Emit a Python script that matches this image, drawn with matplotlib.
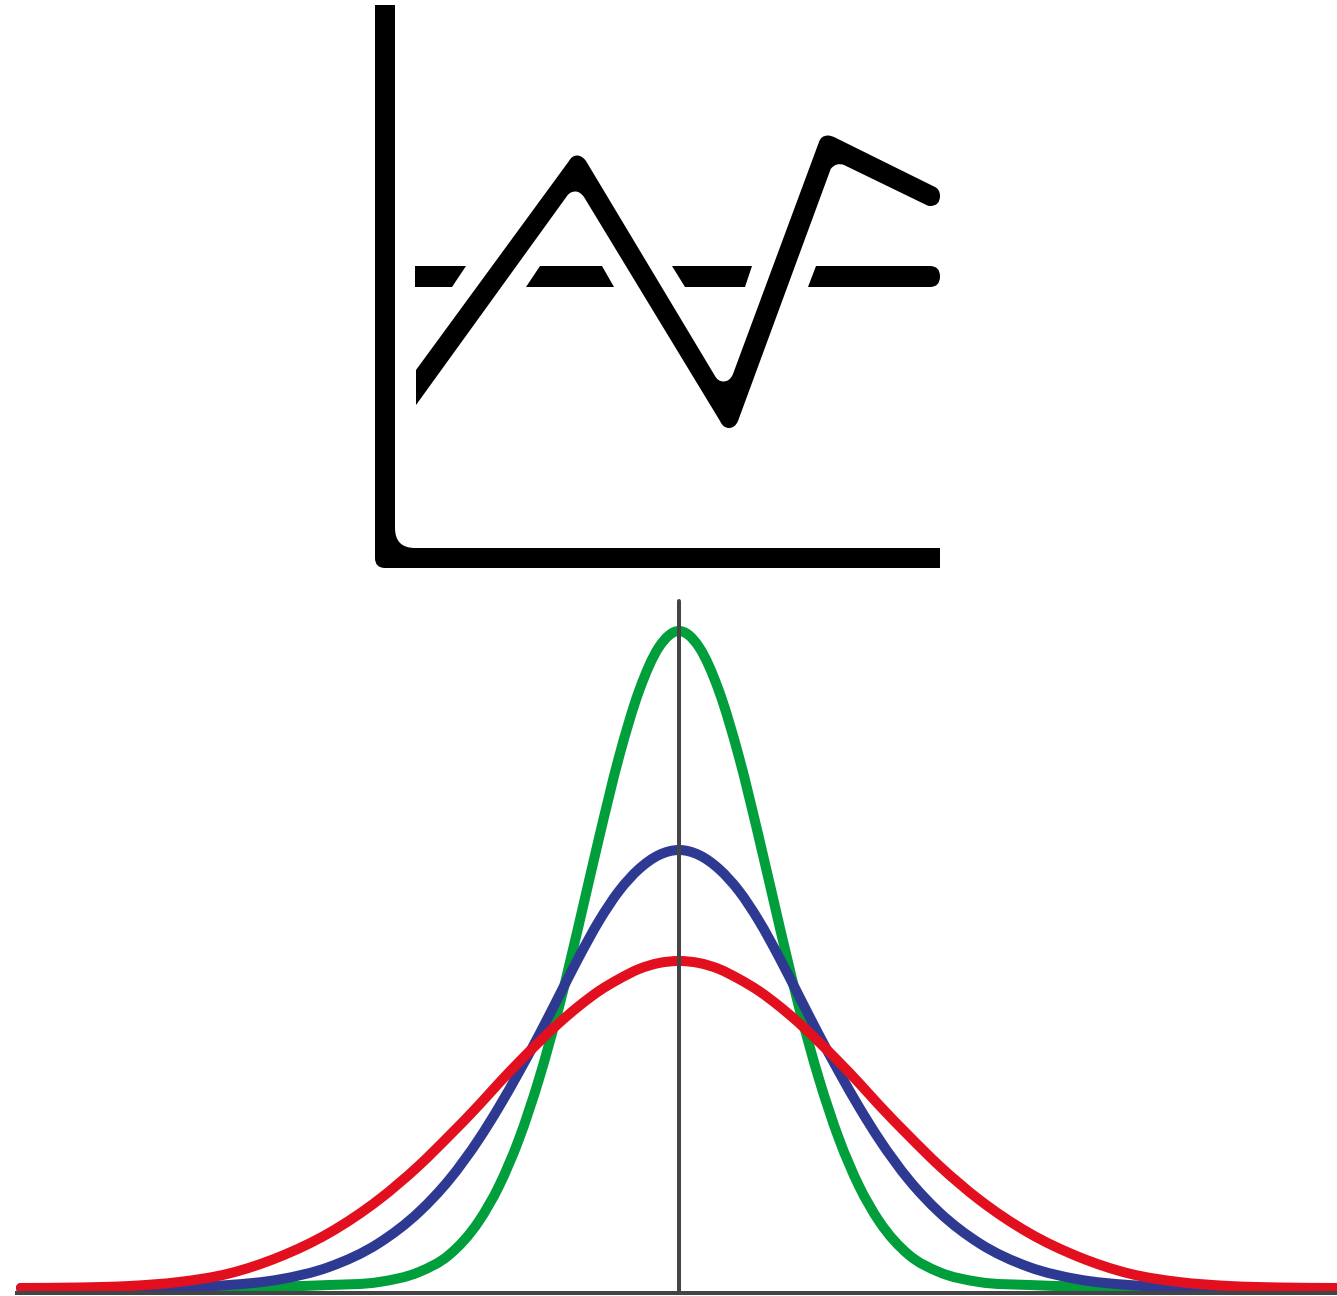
import numpy as np
import matplotlib
matplotlib.use("Agg")
import matplotlib.pyplot as plt
from matplotlib.path import Path
from matplotlib.patches import PathPatch

W = 1337
H = 1296
DPI = 100

# bell curves: distance from the centre line and y of the curve
center_x = 679
axis_y = 1293
axis_top = 601
axis_left = 15
offsets = [0, 20, 40, 60, 80, 100, 120, 140, 160, 180, 200, 230, 260, 300, 350, 400, 450, 500, 550, 600, 658]
green_y = [631, 647, 691, 757, 838, 924, 1007, 1079, 1139, 1186, 1221, 1255, 1272, 1282, 1285, 1286.5, 1287, 1287.5, 1288, 1288, 1288]
blue_y = [850, 855, 869, 891, 921, 957, 996, 1035, 1072, 1107, 1139, 1180, 1212, 1243, 1267, 1279.5, 1285, 1287, 1287.5, 1288, 1288]
red_y = [961, 963, 969, 979, 991, 1006, 1023, 1042, 1062, 1083, 1105, 1136, 1165.5, 1199.5, 1233, 1257, 1273.5, 1282, 1286, 1287.5, 1288]

# icon outlines, M move, L line, Q quadratic (control point then end point)
frame_x = [375, 395, 395, 395, 415, 940, 940, 385, 375, 375]
frame_y = [5, 5, 528, 548, 548, 548, 568, 568, 568, 558]
frame_codes = "MLLQQLLLQQ"

zig_x = [416, 569, 572, 577, 582, 586, 715, 718, 723.5, 730, 733, 819, 821, 828, 831, 835, 935, 940, 940, 940, 930, 928,
         926.4, 844, 836, 830.7, 738, 735, 729, 723, 720, 584, 580, 575.5, 570, 567, 416]
zig_y = [370, 161, 155.5, 155.5, 155.5, 161, 376, 381.5, 381.5, 381.5, 374, 142, 135.5, 135.5, 135.5, 137.5, 187, 189.5, 196, 206, 206, 206,
         205, 165, 162, 169, 421, 428, 428, 428, 421, 197, 191.5, 191.5, 191.5, 196, 405]
zig_codes = "MLQQQQLQQQQLQQQQLQQQQQQLQQLQQQQLQQQQL"

dash_top = 266
dash_bottom = 287
dash1_x = [415, 466, 452, 415]
dash2_x = [540, 602, 614, 526]
dash3_x = [672, 752, 745, 685]
dash4_x = [816, 930, 940, 940, 940, 930, 808]
dash4_y = [266, 266, 266, 276.5, 287, 287, 287]
dash4_codes = "MLQQQQL"


def outline(ax, xs, ys, codes):
    code_map = {"M": Path.MOVETO, "L": Path.LINETO, "Q": Path.CURVE3}
    verts = list(zip(xs, ys)) + [(xs[0], ys[0])]
    path_codes = [code_map[c] for c in codes] + [Path.CLOSEPOLY]
    ax.add_patch(PathPatch(Path(verts, path_codes), facecolor="black", edgecolor="none"))


def smooth_curve(xs, ys):
    # bezier through the read points, slopes taken from the neighbours
    xs = np.array(xs, dtype=float)
    ys = np.array(ys, dtype=float)
    slopes = np.gradient(ys, xs)
    verts = [(xs[0], ys[0])]
    codes = [Path.MOVETO]
    for i in range(len(xs) - 1):
        step = (xs[i + 1] - xs[i]) / 3
        verts.append((xs[i] + step, ys[i] + slopes[i] * step))
        verts.append((xs[i + 1] - step, ys[i + 1] - slopes[i + 1] * step))
        verts.append((xs[i + 1], ys[i + 1]))
        codes += [Path.CURVE4, Path.CURVE4, Path.CURVE4]
    return Path(verts, codes)


def bell(ax, values, color, width):
    dx = np.array(offsets)
    xs = np.concatenate([center_x - dx[::-1], center_x + dx[1:]])
    ys = np.concatenate([np.array(values)[::-1], np.array(values)[1:]])
    ax.add_patch(PathPatch(smooth_curve(xs, ys), facecolor="none", edgecolor=color,
                           linewidth=width * 72 / DPI, capstyle="round", joinstyle="round"))


fig = plt.figure(figsize=(W / DPI, H / DPI), dpi=DPI)
ax = fig.add_axes([0, 0, 1, 1])
ax.set_xlim(0, W)
ax.set_ylim(H, 0)
ax.axis("off")

outline(ax, frame_x, frame_y, frame_codes)
outline(ax, zig_x, zig_y, zig_codes)
for xs in (dash1_x, dash2_x, dash3_x):
    ax.fill(xs, [dash_top, dash_top, dash_bottom, dash_bottom], color="black", lw=0)
outline(ax, dash4_x, dash4_y, dash4_codes)

ax.plot([axis_left, W], [axis_y, axis_y], color="#444444", lw=4 * 72 / DPI, solid_capstyle="butt")
ax.plot([center_x, center_x], [axis_top, axis_y], color="#444444", lw=4 * 72 / DPI, solid_capstyle="round")

bell(ax, green_y, "#009f3c", 10)
bell(ax, blue_y, "#2e3a92", 10)
bell(ax, red_y, "#e2101f", 10)

fig.savefig("out.png", dpi=DPI, facecolor="white")
